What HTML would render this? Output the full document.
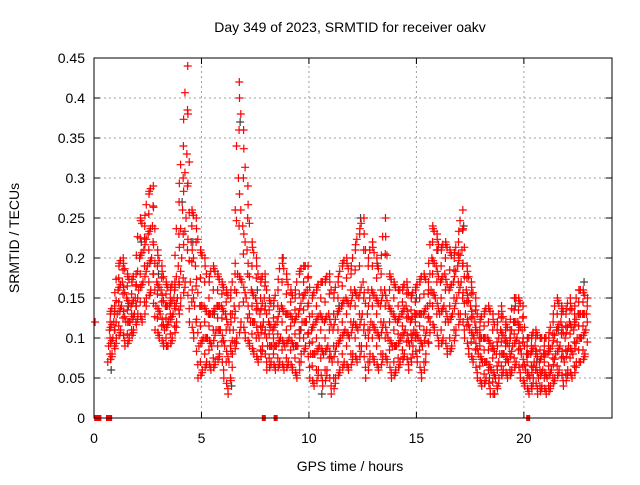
<!DOCTYPE html>
<html><head><meta charset="utf-8"><style>
body{margin:0;background:#fff;}
svg text{font-family:"Liberation Sans",sans-serif;font-size:14px;fill:#000;}
</style></head><body>
<svg id="chart" width="640" height="480" xmlns="http://www.w3.org/2000/svg">
<rect width="640" height="480" fill="#fff"/>
<g id="grid"></g>
<g id="pts"></g>
<rect x="94" y="58" width="518" height="360" fill="none" stroke="#000" stroke-width="1"/>
<g id="ticks"></g>
<text x="350" y="32" text-anchor="middle">Day 349 of 2023, SRMTID for receiver oakv</text>
<text x="350" y="471" text-anchor="middle">GPS time / hours</text>
<text transform="translate(19,238) rotate(-90)" text-anchor="middle">SRMTID / TECUs</text>
</svg>
<script>
const xTicks=[0,5,10,15,20];
const yTicks=[0,0.05,0.1,0.15,0.2,0.25,0.3,0.35,0.4,0.45];
const yTickLabels=["0","0.05","0.1","0.15","0.2","0.25","0.3","0.35","0.4","0.45"];
const hours=[0.7,0.9,1.1,1.3,1.5,1.7,1.9,2.1,2.3,2.5,2.7,2.9,3.1,3.3,3.5,3.7,3.9,4.1,4.3,4.5,4.7,4.9,5.1,5.3,5.5,5.7,5.9,6.1,6.3,6.5,6.7,6.9,7.1,7.3,7.5,7.7,7.9,8.1,8.3,8.5,8.7,8.9,9.1,9.3,9.5,9.7,9.9,10.1,10.3,10.5,10.7,10.9,11.1,11.3,11.5,11.7,11.9,12.1,12.3,12.5,12.7,12.9,13.1,13.3,13.5,13.7,13.9,14.1,14.3,14.5,14.7,14.9,15.1,15.3,15.5,15.7,15.9,16.1,16.3,16.5,16.7,16.9,17.1,17.3,17.5,17.7,17.9,18.1,18.3,18.5,18.7,18.9,19.1,19.3,19.5,19.7,19.9,20.1,20.3,20.5,20.7,20.9,21.1,21.3,21.5,21.7,21.9,22.1,22.3,22.5,22.7,22.9];
const lo=[.07,.08,.10,.11,.09,.10,.11,.13,.12,.15,.16,.11,.10,.09,.09,.10,.12,.15,.17,.12,.10,.05,.06,.07,.06,.07,.08,.05,.03,.08,.10,.12,.10,.09,.08,.07,.09,.06,.07,.06,.07,.06,.07,.06,.05,.08,.09,.05,.04,.06,.04,.06,.03,.05,.06,.07,.06,.08,.07,.09,.05,.08,.07,.06,.08,.07,.05,.06,.07,.08,.06,.09,.07,.05,.08,.12,.11,.09,.10,.08,.09,.11,.13,.10,.08,.07,.05,.04,.05,.03,.03,.05,.06,.05,.06,.07,.05,.04,.03,.05,.03,.04,.03,.04,.05,.06,.04,.06,.05,.07,.07,.08];
const midLo=[.09,.10,.13,.14,.12,.12,.13,.16,.17,.19,.20,.14,.13,.11,.12,.13,.15,.20,.25,.17,.14,.09,.10,.10,.09,.11,.11,.09,.07,.11,.18,.17,.15,.12,.12,.10,.12,.09,.09,.09,.10,.09,.10,.09,.09,.12,.12,.08,.08,.09,.08,.09,.07,.09,.10,.11,.10,.12,.11,.13,.09,.12,.11,.10,.12,.10,.09,.09,.10,.11,.09,.11,.10,.09,.11,.16,.15,.13,.14,.12,.13,.15,.17,.13,.11,.10,.08,.07,.07,.06,.05,.08,.08,.07,.09,.10,.08,.06,.05,.07,.05,.06,.05,.06,.08,.09,.07,.09,.08,.10,.10,.11];
const midHi=[.11,.12,.16,.17,.15,.14,.15,.20,.21,.23,.24,.17,.16,.14,.14,.15,.19,.26,.33,.22,.19,.14,.14,.13,.13,.14,.14,.13,.11,.14,.30,.24,.21,.16,.15,.13,.15,.12,.11,.12,.14,.13,.13,.12,.13,.15,.16,.11,.12,.13,.12,.13,.11,.13,.14,.15,.14,.16,.15,.17,.13,.16,.15,.14,.16,.14,.13,.12,.13,.14,.12,.13,.13,.13,.14,.20,.19,.17,.18,.16,.17,.19,.21,.16,.14,.12,.10,.10,.10,.09,.08,.11,.10,.09,.12,.12,.11,.08,.08,.09,.07,.08,.08,.09,.11,.12,.10,.12,.11,.13,.13,.13];
const hi=[.13,.14,.19,.20,.18,.17,.18,.25,.24,.28,.29,.21,.19,.17,.16,.17,.27,.34,.44,.26,.25,.21,.20,.17,.19,.18,.17,.16,.15,.18,.42,.36,.29,.22,.20,.17,.18,.15,.14,.16,.20,.18,.16,.15,.18,.19,.19,.15,.16,.17,.17,.18,.15,.17,.19,.20,.18,.21,.23,.25,.19,.22,.20,.18,.25,.18,.17,.16,.16,.17,.15,.16,.17,.18,.17,.24,.23,.21,.22,.21,.20,.22,.26,.19,.17,.15,.12,.13,.14,.13,.11,.14,.12,.11,.15,.15,.14,.10,.10,.11,.10,.10,.10,.12,.15,.14,.13,.15,.13,.16,.16,.15];
const zeroHours=[0.1,0.25,0.65,0.75,7.9,8.45,20.2];
const blackHours=[0.8,1.6,2.2,3.0,4.1,4.6,5.6,6.4,6.8,7.6,8.8,9.6,10.6,11.4,12.4,13.2,14.0,15.0,16.0,17.2,18.4,19.6,20.6,21.6,22.8];
const blackVals=[.06,.14,.22,.18,.27,.22,.13,.04,.37,.16,.20,.11,.03,.14,.25,.19,.09,.15,.21,.24,.05,.14,.07,.11,.17];
const X0=94,X1=612,Y0=418,Y1=58,XMAX=24.1,YMAX=0.45;
const xs=v=>X0+(v/XMAX)*(X1-X0);
const ys=v=>Y0-(v/YMAX)*(Y0-Y1);
const NS="http://www.w3.org/2000/svg";
const grid=document.getElementById('grid'),ticks=document.getElementById('ticks'),pts=document.getElementById('pts');
function mk(tag,attrs,parent){const e=document.createElementNS(NS,tag);for(const k in attrs)e.setAttribute(k,attrs[k]);parent.appendChild(e);return e;}
yTicks.forEach((v,i)=>{
  const y=ys(v);
  if(i>0&&i<yTicks.length-1){const g=mk('line',{x1:X0,x2:X1,y1:y,y2:y,stroke:'#a0a0a0','stroke-dasharray':'2,3'},grid);
  
  }
  const t=mk('line',{x1:X0,x2:X0+6,y1:y,y2:y,stroke:'#000'},ticks);
  
  
  mk('line',{x1:X1,x2:X1-6,y1:y,y2:y,stroke:'#000'},ticks);
  const l=mk('text',{x:X0-9,y:y+5,'text-anchor':'end'},ticks);l.textContent=yTickLabels[i];
  
  
});
xTicks.forEach(v=>{
  const x=xs(v);
  if(v>0){const g=mk('line',{x1:x,x2:x,y1:Y0,y2:Y1,stroke:'#a0a0a0','stroke-dasharray':'2,3'},grid);
  
  }
  const t=mk('line',{x1:x,x2:x,y1:Y0,y2:Y0-6,stroke:'#000'},ticks);
  
  
  mk('line',{x1:x,x2:x,y1:Y1,y2:Y1+6,stroke:'#000'},ticks);
  const l=mk('text',{x:x,y:Y0+25,'text-anchor':'middle'},ticks);l.textContent=String(v);
  
  
});
function plus(x,y,c){
  const p=mk('path',{d:`M${x-4},${y}h8M${x},${y-4}v8`,stroke:c,'stroke-width':1.2,fill:'none'},pts);
  
  
}
blackHours.forEach((h,i)=>plus(xs(h),ys(blackVals[i]),'#404040'));
const series=[lo,midLo,midHi,hi];
series.forEach((arr,k)=>{
  hours.forEach((h,i)=>{
    plus(xs(h+(k-1.5)*0.04),ys(arr[i]),'#ff0000');
    if(i<hours.length-1){
      const a=arr[i],b=arr[i+1];
      plus(xs(h+0.07),ys(a+(b-a)/3),'#ff0000');
      plus(xs(h+0.13),ys(a+2*(b-a)/3),'#ff0000');
    }
    if(k<3){const m=(arr[i]+series[k+1][i])/2;plus(xs(h+0.05),ys(m),'#ff0000');}
  });
});
plus(xs(0.05),ys(0.12),'#ff0000');
zeroHours.forEach(h=>{const r=mk('rect',{x:xs(h)-2,y:Y0-3,width:4,height:6,fill:'#ff0000'},pts);
  
  });
</script>
</body></html>
